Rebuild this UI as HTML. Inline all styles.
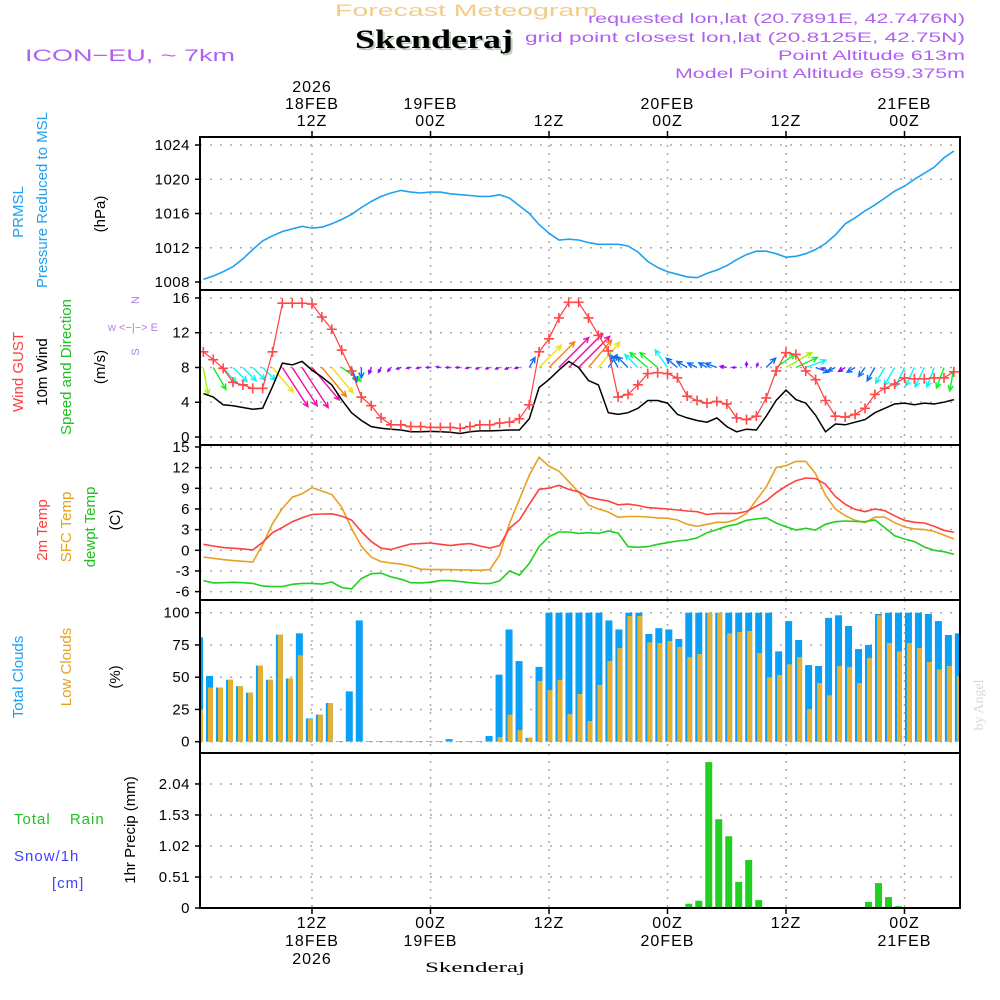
<!DOCTYPE html>
<html><head><meta charset="utf-8"><style>
html,body{margin:0;padding:0;background:#fff;}
svg{display:block;font-family:"Liberation Sans",sans-serif;}
</style></head><body>
<svg id="chart" width="1000" height="1000" viewBox="0 0 1000 1000" xmlns="http://www.w3.org/2000/svg">
<rect width="1000" height="1000" fill="#fff"/>
<text x="335" y="16" textLength="263" lengthAdjust="spacingAndGlyphs" font-size="17" fill="#f2cc88">Forecast Meteogram</text>
<text x="357" y="50" textLength="158" lengthAdjust="spacingAndGlyphs" font-family="Liberation Serif, serif" font-weight="bold" font-size="26" fill="#bcd0bc">Skenderaj</text>
<text x="355" y="48" textLength="158" lengthAdjust="spacingAndGlyphs" font-family="Liberation Serif, serif" font-weight="bold" font-size="26" fill="#000">Skenderaj</text>
<text x="25" y="61" textLength="210" lengthAdjust="spacingAndGlyphs" font-size="17" fill="#b060f0">ICON−EU, ~ 7km</text>
<g font-size="14" fill="#b060f0">
<text x="588" y="23" textLength="377" lengthAdjust="spacingAndGlyphs">requested lon,lat (20.7891E, 42.7476N)</text>
<text x="525" y="42" textLength="440" lengthAdjust="spacingAndGlyphs">grid point closest lon,lat (20.8125E, 42.75N)</text>
<text x="778" y="60" textLength="187" lengthAdjust="spacingAndGlyphs">Point Altitude 613m</text>
<text x="675" y="78" textLength="290" lengthAdjust="spacingAndGlyphs">Model Point Altitude 659.375m</text>
</g>
<g id="grid"></g>
<g id="marks"></g>
<g id="frames"></g>
<g id="axes" font-size="15" fill="#000"></g>
<g font-size="15">
<text transform="translate(23,212) rotate(-90)" text-anchor="middle" fill="#20a0f0">PRMSL</text>
<text transform="translate(47,200) rotate(-90)" text-anchor="middle" fill="#20a0f0">Pressure Reduced to MSL</text>
<text transform="translate(105,214) rotate(-90)" text-anchor="middle" fill="#000">(hPa)</text>
<text transform="translate(23,372) rotate(-90)" text-anchor="middle" fill="#ff4040">Wind GUST</text>
<text transform="translate(47,372) rotate(-90)" text-anchor="middle" fill="#000">10m Wind</text>
<text transform="translate(71,367) rotate(-90)" text-anchor="middle" fill="#20c020">Speed and Direction</text>
<text transform="translate(105,367) rotate(-90)" text-anchor="middle" fill="#000">(m/s)</text>
<text transform="translate(47,530) rotate(-90)" text-anchor="middle" fill="#ff4040">2m Temp</text>
<text transform="translate(71,527) rotate(-90)" text-anchor="middle" fill="#e8a020">SFC Temp</text>
<text transform="translate(95,527) rotate(-90)" text-anchor="middle" fill="#20c020">dewpt Temp</text>
<text transform="translate(120,520) rotate(-90)" text-anchor="middle" fill="#000">(C)</text>
<text transform="translate(23,677) rotate(-90)" text-anchor="middle" fill="#20a0f0">Total Clouds</text>
<text transform="translate(71,667) rotate(-90)" text-anchor="middle" fill="#e8a020">Low Clouds</text>
<text transform="translate(120,677) rotate(-90)" text-anchor="middle" fill="#000">(%)</text>
<text transform="translate(135,830) rotate(-90)" text-anchor="middle" fill="#000">1hr Precip (mm)</text>
<text x="14" y="824" fill="#20c020" letter-spacing="1" word-spacing="14">Total Rain</text>
<text x="14" y="861" fill="#4040ff" letter-spacing="1">Snow/1h</text>
<text x="52" y="888" fill="#4040ff" letter-spacing="1">[cm]</text>
</g>
<g font-size="11" fill="#b080e0" text-anchor="middle">
<text transform="translate(139,300) rotate(-90)">N</text>
<text x="133" y="331">w &lt;−|−&gt; E</text>
<text transform="translate(139,352) rotate(-90)">S</text>
</g>
<text transform="translate(983,705) rotate(-90)" text-anchor="middle" font-family="Liberation Serif, serif" font-size="14" fill="#d8d8d8">by Angel</text>
<text x="425" y="972" textLength="100" lengthAdjust="spacingAndGlyphs" font-family="Liberation Serif, serif" font-size="15" fill="#000">Skenderaj</text>
</svg>
<script>
// ---- data (hourly, hour 1..77 from 00Z 18FEB) ----
const pressure = [1008.3,1008.7,1009.2,1009.8,1010.7,1011.8,1012.8,1013.4,1013.9,1014.2,1014.5,1014.3,1014.4,1014.8,1015.3,1015.9,1016.7,1017.4,1018.0,1018.4,1018.7,1018.5,1018.4,1018.5,1018.5,1018.3,1018.2,1018.1,1018.0,1018.0,1018.2,1017.8,1016.9,1016.0,1014.7,1013.7,1012.9,1013.0,1012.9,1012.6,1012.4,1012.4,1012.4,1012.2,1011.5,1010.4,1009.7,1009.2,1008.9,1008.6,1008.5,1009.0,1009.4,1009.9,1010.6,1011.2,1011.6,1011.6,1011.3,1010.9,1011.0,1011.3,1011.8,1012.5,1013.5,1014.8,1015.5,1016.3,1017.0,1017.8,1018.6,1019.2,1020.0,1020.7,1021.4,1022.5,1023.3];
const gust = [9.8,8.9,7.9,6.3,6.0,5.6,5.6,9.8,15.4,15.4,15.4,15.3,13.8,12.4,10.0,7.6,4.6,3.6,2.2,1.4,1.4,1.2,1.2,1.1,1.1,1.1,1.0,1.2,1.4,1.4,1.6,1.7,2.1,3.7,9.8,11.3,13.7,15.5,15.5,13.7,11.7,9.9,4.6,4.9,6.0,7.3,7.4,7.3,6.8,4.7,4.2,3.9,4.1,3.8,2.2,2.0,2.4,4.5,7.6,9.7,9.5,7.6,6.6,4.2,2.4,2.3,2.6,3.3,4.9,5.6,6.1,6.8,6.7,6.7,6.8,6.8,7.5];
const wind = [5.0,4.6,3.7,3.6,3.4,3.2,3.3,5.8,8.5,8.3,8.7,7.7,6.9,6.0,4.3,2.8,1.9,1.2,1.0,0.9,0.8,0.6,0.6,0.65,0.6,0.55,0.4,0.6,0.7,0.7,0.75,0.8,0.8,2.1,5.7,6.6,7.7,8.7,8.0,6.5,6.0,2.8,2.6,2.8,3.3,4.2,4.2,3.9,2.6,2.2,1.9,1.7,2.2,1.2,0.6,0.9,0.8,2.4,4.2,5.4,4.3,3.9,2.5,0.6,1.5,1.4,1.7,2.0,2.8,3.3,3.8,3.9,3.7,3.9,3.8,4.0,4.3];
const windDir = [170,150,140,135,135,135,135,140,147,147,147,140,140,140,125,160,180,200,210,220,250,260,260,270,280,270,270,260,250,250,250,250,260,30,45,45,45,45,45,40,40,35,330,315,315,310,310,325,310,300,295,300,290,280,270,0,20,45,55,60,65,70,110,250,245,240,240,215,210,210,210,205,205,205,200,200,190];
const temp2m = [0.87,0.63,0.39,0.3,0.2,0.05,1.15,2.56,3.33,4.15,4.73,5.2,5.27,5.3,4.97,4.4,2.7,1.26,0.3,0.1,0.53,0.92,0.97,1.06,0.87,0.68,0.87,0.97,0.63,0.34,0.68,3.19,4.4,6.67,8.84,9.03,9.42,8.84,8.5,7.7,7.4,7.15,6.6,6.7,6.5,6.2,6.1,6.0,5.85,5.7,5.6,5.2,5.36,5.36,5.36,5.65,6.4,7.2,8.36,9.3,10.1,10.5,10.4,9.6,7.8,6.67,5.94,5.6,6.0,5.75,5.0,4.35,4.06,3.96,3.5,2.9,2.6];
const tempSfc = [-0.97,-1.16,-1.35,-1.5,-1.6,-1.7,0.82,3.86,6.1,7.7,8.2,9.1,8.6,8.1,6.3,3.2,0.58,-1.0,-1.64,-1.84,-2.0,-2.3,-2.75,-2.8,-2.8,-2.8,-2.85,-2.85,-2.9,-2.8,-0.7,3.9,7.4,10.9,13.5,12.2,11.5,9.95,8.45,6.57,6.0,5.56,4.8,4.9,4.9,4.83,4.7,4.64,4.4,3.77,3.48,3.77,4.06,4.06,4.5,5.36,7.3,9.2,12.0,12.3,12.9,12.9,11.1,8.0,6.0,5.0,4.35,4.0,4.8,4.8,4.0,3.4,3.1,3.0,2.75,2.2,1.64];
const tempDew = [-4.4,-4.73,-4.7,-4.64,-4.7,-4.8,-5.2,-5.27,-5.27,-4.93,-4.8,-4.8,-4.9,-4.6,-5.4,-5.6,-4.1,-3.4,-3.33,-3.86,-4.2,-4.7,-4.73,-4.64,-4.4,-4.4,-4.54,-4.7,-4.8,-4.83,-4.44,-3.0,-3.6,-1.9,0.53,1.98,2.66,2.66,2.46,2.56,2.46,2.8,2.5,0.53,0.43,0.53,0.87,1.1,1.35,1.5,1.8,2.56,3.0,3.5,3.77,4.35,4.54,4.73,3.96,3.43,2.95,3.2,2.95,3.77,4.15,4.25,4.2,4.15,4.4,3.3,2.1,1.64,1.26,0.48,0,-0.2,-0.58];
// clouds: bars hour 0..76
const totalClouds = [81,51,42,48,43,38,59,48,83,49,84,18,21,30,0.5,39,94,0.5,0.5,0.5,0.5,0.5,0.5,0.5,0.5,2,0.5,0.5,0.5,4.4,52,87,62.5,3,58,100,100,100,100,100,100,94,87,100,100,83.5,88,87,79.6,100,100,100,100,100,100,100,100,100,70,93.5,78.8,59.4,58.7,96,98,89.7,71.8,75,99,100,100,100,100,99,93.5,82.7,84];
const lowClouds = [25,42,42,48,43,38,59,48,83,49,67,17.5,21,30,0.5,0.5,0.5,0.5,0.5,0.5,0.5,0.5,0.5,0.5,0.5,0.5,0.5,0.5,0.5,0.5,3.6,21,9,3,47,40,48,21.5,37,16,44,62.5,72.6,97.4,97.4,77,76.5,78,73.4,65.6,68,100,100,84,85,85.8,68.7,50,51.7,60,65.6,25.3,45.5,36,58.7,58,45.5,65,98,76.5,70,76.5,72.6,61.8,56,58.7,51];
// precipitation: bar hour 0..76
const rain = [0,0,0,0,0,0,0,0,0,0,0,0,0,0,0,0,0,0,0,0,0,0,0,0,0,0,0,0,0,0,0,0,0,0,0,0,0,0,0,0,0,0,0,0,0,0,0,0,0.016,0.07,0.12,2.40,1.46,1.18,0.43,0.79,0.13,0,0,0,0,0,0,0,0,0,0,0.10,0.41,0.18,0.03,0,0,0,0,0,0];
const pressureTicks = [1008,1012,1016,1020,1024];
const windTicks = [0,4,8,12,16];
const tempTicks = [-6,-3,0,3,6,9,12,15];
const cloudTicks = [0,25,50,75,100];
const rainTicks = [0,0.51,1.02,1.53,2.04];
const timeTickHours = [12,24,36,48,60,72];
const timeTopLabels = [["2026","18FEB","12Z"],["","19FEB","00Z"],["","","12Z"],["","20FEB","00Z"],["","","12Z"],["","21FEB","00Z"]];
const timeBottomLabels = [["12Z","18FEB","2026"],["00Z","19FEB",""],["12Z","",""],["00Z","20FEB",""],["12Z","",""],["00Z","21FEB",""]];

// ---- scales ----
const X0=200,X1=960;
const xH = h => 312 + (h-12)*9.875;
const xB = h => 206 + (h-1)*9.985;
const yP = v => 282 - (v-1008)*8.5625;
const yW = v => 437 - v*8.69;
const yT = v => 550.3 - v*6.89;
const yC = v => 741.7 - v*1.29;
const yR = v => 908 - v*60.8;
const panels = [[137,290],[290,445],[445,600],[600,753],[753,908]];

const NS="http://www.w3.org/2000/svg";
function mk(tag, attrs, parent){const e=document.createElementNS(NS,tag);for(const k in attrs)e.setAttribute(k,attrs[k]);parent.appendChild(e);return e;}
const grid=document.getElementById('grid'), marks=document.getElementById('marks'), frames=document.getElementById('frames'), axes=document.getElementById('axes');

const defs=mk('defs',{},document.getElementById('chart'));
const cp=mk('clipPath',{id:'plotclip'},defs);
mk('rect',{x:X0,y:137,width:X1-X0,height:771},cp);
marks.setAttribute('clip-path','url(#plotclip)');

for(const h of timeTickHours){
  for(const [t,b] of panels){
    const g=mk('line',{x1:xH(h),x2:xH(h),y1:t,y2:b,stroke:'#aaa','stroke-width':1.5,'stroke-dasharray':'2,6'},grid);
    
    
  }
}
function hgrid(ticks, ys, fmt){
  for(const v of ticks){
    const y=ys(v);
    const g=mk('line',{x1:X0,x2:X1,y1:y,y2:y,stroke:'#aaa','stroke-width':1.5,'stroke-dasharray':'2,8'},grid);
    
    
    mk('line',{x1:X0-5,x2:X0,y1:y,y2:y,stroke:'#000','stroke-width':1.5},axes);
    const t=mk('text',{x:X0-10,y:y+5,'text-anchor':'end','letter-spacing':0.5},axes);
    t.textContent=fmt?fmt(v):String(v);
    
    
  }
}
hgrid(pressureTicks,yP);
hgrid(windTicks,yW);
hgrid(tempTicks,yT);
hgrid(cloudTicks,yC);
hgrid(rainTicks,yR,v=>v===0?'0':v.toFixed(2));

for(const [t,b] of panels){
  const f=mk('rect',{x:X0,y:t,width:X1-X0,height:b-t,fill:'none',stroke:'#000','stroke-width':2},frames);
  
  
}
timeTickHours.forEach((h,i)=>{
  const x=xH(h);
  mk('line',{x1:x,x2:x,y1:131,y2:137,stroke:'#000','stroke-width':1.5},axes);
  mk('line',{x1:x,x2:x,y1:908,y2:914,stroke:'#000','stroke-width':1.5},axes);
  timeTopLabels[i].forEach((s,j)=>{ if(!s)return;
    const t=mk('text',{x:x,y:92+j*17,'text-anchor':'middle','font-size':16,'letter-spacing':1},axes);
    t.textContent=s;
    
    
  });
  timeBottomLabels[i].forEach((s,j)=>{ if(!s)return;
    const t=mk('text',{x:x,y:928+j*18,'text-anchor':'middle','font-size':16,'letter-spacing':1},axes);
    t.textContent=s;
    
    
  });
});

function line(arr, ys, color, name, w){
  const d=arr.map((v,i)=>(i?'L':'M')+xH(i+1).toFixed(1)+','+ys(v).toFixed(1)).join(' ');
  const p=mk('path',{d:d,fill:'none',stroke:color,'stroke-width':w||1.6},marks);
  
  
}
line(pressure,yP,'#20a0f0','pressure-line');
totalClouds.forEach((v,i)=>{
  const x=xB(i), y=yC(v);
  const r=mk('rect',{x:x,y:y,width:7,height:yC(0)-y,fill:'#0aa0f5'},marks);
  
  
});
lowClouds.forEach((v,i)=>{
  const x=xB(i)+2, y=yC(v);
  const r=mk('rect',{x:x,y:y,width:5,height:yC(0)-y,fill:'#e8b030'},marks);
  
  
});
rain.forEach((v,i)=>{
  if(v<=0)return;
  const x=xB(i), y=yR(v);
  const r=mk('rect',{x:x,y:y,width:7,height:yR(0)-y,fill:'#20d020'},marks);
  
  
});
line(tempSfc,yT,'#e8a020','sfc-temp-line');
line(temp2m,yT,'#ff4040','temp-2m-line');
line(tempDew,yT,'#20d020','dewpoint-line');
function speedColor(s){
  let h;
  if(s<1.5)h=275; else if(s<3)h=215; else if(s<4)h=180; else if(s<4.8)h=125; else if(s<5.5)h=80; else if(s<6.5)h=55; else if(s<7.5)h=30; else h=320;
  return 'hsl('+h+',90%,50%)';
}
windDir.forEach((dir,i)=>{
  const s=wind[i], x=xH(i+1), y=yW(8);
  const L=Math.max(4,s*5.5), a=dir*Math.PI/180;
  const ex=x+L*Math.sin(a), ey=y-L*Math.cos(a);
  const c=speedColor(s);
  const hl=Math.min(6,L*0.6);
  const h1x=ex-hl*Math.sin(a-0.45), h1y=ey+hl*Math.cos(a-0.45);
  const h2x=ex-hl*Math.sin(a+0.45), h2y=ey+hl*Math.cos(a+0.45);
  const p=mk('path',{d:`M${x},${y} L${ex},${ey} M${h1x},${h1y} L${ex},${ey} L${h2x},${h2y}`,fill:'none',stroke:c,'stroke-width':1.4},marks);
  
  
});
line(wind,yW,'#000','wind-speed-line',1.5);
line(gust,yW,'#ff4040','gust-line',1.2);
gust.forEach((v,i)=>{
  const x=xH(i+1), y=yW(v);
  const p=mk('path',{d:`M${x-5},${y} L${x+5},${y} M${x},${y-5} L${x},${y+5}`,stroke:'#ff4848','stroke-width':1.6},marks);
  
  
});
</script>
</body></html>
